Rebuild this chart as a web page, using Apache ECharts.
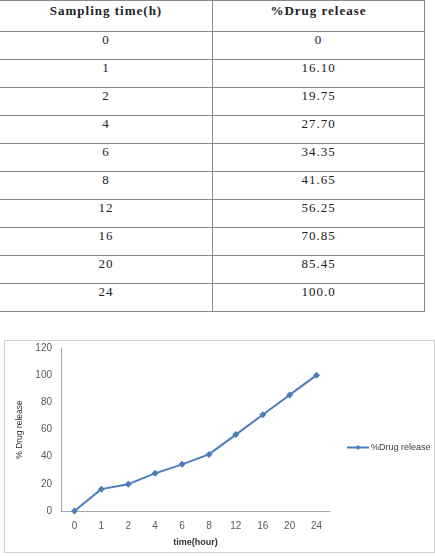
<!DOCTYPE html>
<html>
<head>
<meta charset="utf-8">
<script src="https://cdn.jsdelivr.net/npm/echarts@6/dist/echarts.min.js"></script>
<style>
  body { margin: 0; background: #fff; }
  #tbl {
    position: absolute; left: -1px; top: 0;
    border-collapse: collapse;
    font-family: "Liberation Serif", "DejaVu Serif", serif;
    font-size: 13px; line-height: 15px; color: #222; letter-spacing: 1px;
  }
  #tbl td, #tbl th {
    border: 1px solid #8a8a8a;
    text-align: center; vertical-align: top;
    padding: 0; height: 27px;
  }
  #tbl th { height: 28px; font-weight: bold; padding-top: 2px; }
  #chart {
    position: absolute; left: 4px; top: 340px;
    width: 429px; height: 211px;
    border: 1px solid #d0d0d0;
  }
</style>
</head>
<body>
<table id="tbl"></table>
<div id="chart"></div>
<script>
// 表格和图表共用的数据
const headers = ['Sampling time(h)', '%Drug release']
const timeLabels = ['0', '1', '2', '4', '6', '8', '12', '16', '20', '24']
const releaseText = ['0', '16.10', '19.75', '27.70', '34.35', '41.65', '56.25', '70.85', '85.45', '100.0']
const releaseValues = [0, 16.10, 19.75, 27.70, 34.35, 41.65, 56.25, 70.85, 85.45, 100.0]
const yTicks = [0, 20, 40, 60, 80, 100, 120]

// 生成表格
const tbl = document.getElementById('tbl')
let html = '<tr><th style="width:212px">' + headers[0] + '</th><th style="width:211px">' + headers[1] + '</th></tr>'
timeLabels.forEach((t, i) => {
    html += '<tr><td>' + t + '</td><td>' + releaseText[i] + '</td></tr>'
})
tbl.innerHTML = html

const labelFont = '"Liberation Sans", "DejaVu Sans", sans-serif'

const option = {
    animation: false,
    grid: { left: 56, top: 7, width: 269, height: 165 },
    legend: {
        data: ['%Drug release'],
        left: 336, top: 97,
        itemWidth: 22, itemHeight: 6, itemGap: 2,
        textStyle: { fontFamily: labelFont, fontSize: 9, color: '#404040', padding: [0, 0, 0, -3] }
    },
    xAxis: {
        type: 'category',
        data: timeLabels,
        name: 'time(hour)',
        nameLocation: 'middle',
        nameGap: 27,
        nameTextStyle: { fontFamily: labelFont, fontSize: 9, fontWeight: 'bold', color: '#333' },
        axisLine: { lineStyle: { color: '#a6a6a6' } },
        axisTick: { show: false },
        axisLabel: { fontFamily: labelFont, fontSize: 10, color: '#595959', margin: 10 }
    },
    yAxis: {
        type: 'value',
        min: yTicks[0],
        max: yTicks[yTicks.length - 1],
        interval: yTicks[1] - yTicks[0],
        name: '% Drug release',
        nameLocation: 'middle',
        nameGap: 33,
        nameTextStyle: { fontFamily: labelFont, fontSize: 8.5, color: '#333' },
        axisLine: { show: true, lineStyle: { color: '#a6a6a6' } },
        axisTick: { show: false },
        splitLine: { show: false },
        axisLabel: { fontFamily: labelFont, fontSize: 10, color: '#595959', margin: 9 }
    },
    series: [
        {
            name: '%Drug release',
            type: 'line',
            data: releaseValues,
            symbol: 'diamond',
            symbolSize: 7,
            itemStyle: { color: '#4a7ebb' },
            lineStyle: { color: '#4a7ebb', width: 2 }
        }
    ]
}

const chart = echarts.init(document.getElementById('chart'))
chart.setOption(option)
</script>
</body>
</html>
